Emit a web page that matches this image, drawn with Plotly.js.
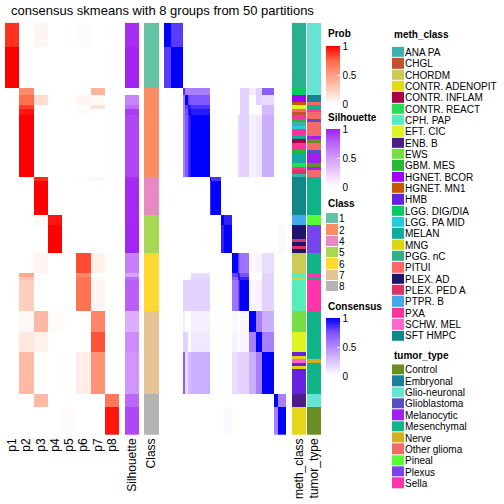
<!DOCTYPE html>
<html><head><meta charset="utf-8">
<script src="https://cdn.plot.ly/plotly-3.0.1.min.js"></script>
<style>html,body{margin:0;padding:0;background:#fff}</style>
</head><body><div id="chart" style="width:504px;height:504px"></div>
<script>
// ---------- data ----------
const probLabels = ['p1','p2','p3','p4','p5','p6','p7','p8'];
// row groups (top to bottom)
const groupNames = ['1a','1b','2a','2b','2c','2d','2e','4a','4b','5a','5b','6a','6b','6c','6d','7a','7b','7c','8a','8b'];
const groupSize  = [7,12,2,3,1,2,18,1,10,3,8,6,1,1,9,6,6,12,4,8];
const groupClass = ['1','1','2','2','2','2','2','4','4','5','5','6','6','6','6','7','7','7','8','8'];
const p1 = [0.88,1,0,0,0,0,0,0,0,0,0,0,0,0,0,0,0,0,0,0];
const p2 = [0,0,0.59,0.72,0.85,0.95,1,0,0,0,0,0,0.45,0.3,0.25,0.04,0.12,0.36,0,0];
const p3 = [0.05,0,0,0.18,0,0,0,0.9,1,0.03,0,0.05,0,0,0,0.36,0.07,0,0.36,0];
const p4 = [0,0,0,0,0,0,0,0,0,0.95,1,0,0,0,0,0.02,0,0,0,0];
const p5 = [0,0,0,0,0,0,0,0,0,0,0,0,0,0,0,0,0,0,0,0.02];
const p6 = [0.02,0,0,0.05,0,0.03,0,0.02,0,0,0,0.82,0.6,0.68,0.7,0,0,0.09,0,0];
const p7 = [0,0,0.39,0.03,0.15,0,0,0.05,0,0,0,0.08,0,0.03,0.05,0.61,0.8,0.55,0,0];
const p8 = [0,0,0,0,0,0,0,0,0,0,0,0,0,0,0,0,0,0,0.67,0.95];
const silhouette = [0.95,0.99,0.02,0.61,0.72,0.9,0.86,0.95,0.97,0.97,0.98,0.63,0.46,0.73,0.77,0.41,0.57,0.53,0.74,0.86];
// consensus between row groups [groupA, groupB, value]; unlisted pairs are 0
const consensusPairs = [
 ['1a','1a',1],['1a','1b',0.82],['1b','1b',1],
 ['2a','2a',0.85],['2a','2b',0.55],['2a','2c',0.55],['2a','2d',0.55],['2a','2e',0.55],
 ['2b','2b',1],['2b','2c',0.8],['2b','2d',0.75],['2b','2e',0.72],
 ['2c','2c',1],['2c','2d',0.9],['2c','2e',0.85],['2d','2d',1],['2d','2e',0.92],['2e','2e',1],
 ['2a','6d',0.2],['2a','7a',0.08],['2a','7b',0.2],['2a','7c',0.7],
 ['2b','6d',0.2],['2b','7b',0.2],['2b','7c',0.15],
 ['2c','6d',0.2],['2c','7c',0.3],['2d','6d',0.2],['2d','7c',0.3],
 ['2e','6b',0.15],['2e','6c',0.18],['2e','6d',0.2],['2e','7a',0.07],['2e','7b',0.1],['2e','7c',0.35],
 ['4a','4a',1],['4a','4b',0.85],['4b','4b',1],
 ['5a','5a',1],['5a','5b',0.9],['5b','5b',1],['5b','8b',0.03],
 ['6a','6a',1],['6a','6b',0.8],['6a','6c',0.7],['6a','6d',0.6],['6b','6b',1],['6b','6c',0.85],['6b','6d',0.75],
 ['6c','6c',1],['6c','6d',0.9],['6d','6d',1],
 ['6a','7a',0.03],['6a','7b',0.05],['6a','7c',0.15],['6b','7c',0.2],['6c','7c',0.2],
 ['6d','7a',0.04],['6d','7b',0.05],['6d','7c',0.2],
 ['7a','7a',1],['7a','7b',0.55],['7a','7c',0.35],['7b','7b',1],['7b','7c',0.55],['7c','7c',1],
 ['8a','8a',1],['8a','8b',0.55],['8b','8b',1]
];
const classLevels = ['1','2','4','5','6','7','8'];
const classColors = ['#66C2A5','#FC8D62','#E78AC3','#A6D854','#FFD92F','#E5C494','#B3B3B3'];
const methLevels = ['ANA PA','CHGL','CHORDM','CONTR. ADENOPIT','CONTR. INFLAM','CONTR. REACT','CPH. PAP','EFT. CIC','ENB. B','EWS','GBM. MES','HGNET. BCOR','HGNET. MN1','HMB','LGG. DIG/DIA','LGG. PA MID','MELAN','MNG','PGG. nC','PITUI','PLEX. AD','PLEX. PED A','PTPR. B','PXA','SCHW. MEL','SFT HMPC'];
const methColors = ['#3CB0AC','#C4502C','#CCCC55','#E5D81B','#A8004A','#22DD55','#55EEBB','#DDF522','#4B1C8A','#77DD44','#22BB33','#A000FF','#CC5500','#6622DD','#00CC66','#22CCDD','#11AAA0','#DDD511','#2AAF8F','#FF6666','#1E1470','#DD3366','#44AAEE','#FF3399','#FF66CC','#118888'];
const tumorLevels = ['Control','Embryonal','Glio-neuronal','Glioblastoma','Melanocytic','Mesenchymal','Nerve','Other glioma','Pineal','Plexus','Sella'];
const tumorColors = ['#6B8E23','#1B7F99','#66E3D3','#5A4FC0','#A020F0','#11B388','#D4B020','#F46A6A','#55FF33','#7744EE','#FF33AA'];
// per-row annotations as runs [label, count]
const methRuns = [
 ['PGG. nC',19],
 ['LGG. DIG/DIA',2],['HGNET. BCOR',2],['HGNET. MN1',1],['EFT. CIC',1],['PITUI',1],['CHGL',1],['PXA',1],['GBM. MES',1],
 ['ANA PA',1],['LGG. PA MID',1],['PXA',2],['MELAN',1],['CONTR. INFLAM',1],['PXA',2],['GBM. MES',1],['MELAN',3],
 ['CONTR. REACT',1],['PXA',1],['PLEX. PED A',1],['ANA PA',1],
 ['SFT HMPC',11],
 ['PTPR. B',3],['PLEX. AD',4],['PLEX. PED A',1],['PLEX. AD',1],['PLEX. PED A',1],['PLEX. AD',1],
 ['CHORDM',6],['CPH. PAP',1],['CHORDM',1],['CPH. PAP',9],
 ['EWS',6],['EFT. CIC',6],['HMB',1],['MNG',1],['SCHW. MEL',1],['HMB',1],['MNG',1],['HMB',7],
 ['ENB. B',4],['CONTR. ADENOPIT',8]
];
const tumorRuns = [
 ['Glio-neuronal',21],['Embryonal',2],['Other glioma',1],['Mesenchymal',1],['Sella',1],['Other glioma',2],
 ['Glioblastoma',1],['Other glioma',4],['Melanocytic',1],['Control',1],['Other glioma',2],['Glioblastoma',1],
 ['Melanocytic',3],['Control',1],['Melanocytic',1],['Other glioma',2],
 ['Mesenchymal',11],
 ['Pineal',3],['Plexus',8],
 ['Mesenchymal',6],['Sella',1],['Mesenchymal',1],['Sella',9],
 ['Mesenchymal',14],['Nerve',1],['Mesenchymal',9],
 ['Glio-neuronal',4],['Control',8]
];

// ---------- build ----------
const W = 504, H = 504;
const probCols = [p1,p2,p3,p4,p5,p6,p7,p8];
const rowGroup = [];
groupSize.forEach((n,g)=>{ for(let k=0;k<n;k++) rowGroup.push(g); });
const N = rowGroup.length;
const rows = Array.from({length:N},(_,i)=>i);
const zProb = rowGroup.map(g=>probCols.map(c=>c[g]));
const zSil = rowGroup.map(g=>[silhouette[g]]);
const zClass = rowGroup.map(g=>[classLevels.indexOf(groupClass[g])]);
const G = groupNames.length;
const cmat = Array.from({length:G},()=>new Array(G).fill(0));
consensusPairs.forEach(([a,b,v])=>{ const i=groupNames.indexOf(a), j=groupNames.indexOf(b); cmat[i][j]=v; cmat[j][i]=v; });
const zCons = rowGroup.map(gi=>rowGroup.map(gj=>cmat[gi][gj]));
function expand(runs, levels){ const out=[]; runs.forEach(([l,n])=>{ for(let k=0;k<n;k++) out.push([levels.indexOf(l)]); }); return out; }
const zMeth = expand(methRuns, methLevels);
const zTumor = expand(tumorRuns, tumorLevels);

function discreteScale(colors){ const n=colors.length, s=[]; colors.forEach((c,k)=>{ s.push([k/n,c]); s.push([(k+1)/n,c]); }); return s; }
const probScale = [[0,'#FFFFFF'],[0.25,'rgb(255,207,190)'],[0.5,'rgb(255,158,130)'],[0.75,'rgb(255,104,70)'],[1,'#FF0000']];
const silScale = [[0,'#FFFFFF'],[0.25,'rgb(236,205,254)'],[0.5,'rgb(213,155,251)'],[0.75,'rgb(186,102,248)'],[1,'rgb(160,32,240)']];
const consScale = [[0,'#FFFFFF'],[0.25,'rgb(220,197,255)'],[0.5,'rgb(179,139,255)'],[0.75,'rgb(126,81,255)'],[1,'#0000FF']];

const FONT = 'Liberation Sans, Arial, Helvetica, sans-serif';
function cbar(top, len){
  return {x:326/W, xanchor:'left', y:1-top/H, yanchor:'top', len:len, lenmode:'pixels', thickness:14,
    xpad:0, ypad:0, outlinewidth:0, tickvals:[0,0.5,1], ticktext:['0','0.5','1'], ticks:'inside',
    tickcolor:'#FFFFFF', ticklen:3, tickfont:{size:10, color:'#000', family:FONT}, title:{text:''}};
}
const base = {type:'heatmap', yaxis:'y', zsmooth:false, hoverinfo:'skip'};
const traces = [
  Object.assign({}, base, {xaxis:'x', z:zProb, x:probLabels.map((_,i)=>i), y:rows, zmin:0, zmax:1, colorscale:probScale, showscale:true, colorbar:cbar(46,58)}),
  Object.assign({}, base, {xaxis:'x2', z:zSil, x:[0], y:rows, zmin:0, zmax:1, colorscale:silScale, showscale:true, colorbar:cbar(129,58)}),
  Object.assign({}, base, {xaxis:'x3', z:zClass, x:[0], y:rows, zmin:-0.5, zmax:classLevels.length-0.5, colorscale:discreteScale(classColors), showscale:false}),
  Object.assign({}, base, {xaxis:'x4', z:zCons, x:rows, y:rows, zmin:0, zmax:1, colorscale:consScale, showscale:true, colorbar:cbar(318,58)}),
  Object.assign({}, base, {xaxis:'x5', z:zMeth, x:[0], y:rows, zmin:-0.5, zmax:methLevels.length-0.5, colorscale:discreteScale(methColors), showscale:false}),
  Object.assign({}, base, {xaxis:'x6', z:zTumor, x:[0], y:rows, zmin:-0.5, zmax:tumorLevels.length-0.5, colorscale:discreteScale(tumorColors), showscale:false}),
  // legend swatches
  {type:'heatmap', xaxis:'x7', yaxis:'y2', z:classLevels.map((_,k)=>[k]), x:[0], y:classLevels.map((_,k)=>k), zmin:-0.5, zmax:classLevels.length-0.5, colorscale:discreteScale(classColors), showscale:false, ygap:1, hoverinfo:'skip'},
  {type:'heatmap', xaxis:'x8', yaxis:'y3', z:methLevels.map((_,k)=>[k]), x:[0], y:methLevels.map((_,k)=>k), zmin:-0.5, zmax:methLevels.length-0.5, colorscale:discreteScale(methColors), showscale:false, ygap:1, hoverinfo:'skip'},
  {type:'heatmap', xaxis:'x9', yaxis:'y4', z:tumorLevels.map((_,k)=>[k]), x:[0], y:tumorLevels.map((_,k)=>k), zmin:-0.5, zmax:tumorLevels.length-0.5, colorscale:discreteScale(tumorColors), showscale:false, ygap:1, hoverinfo:'skip'}
];

const TICKF = {size:12, color:'#000', family:FONT};
function xa(d0,d1,extra){
  return Object.assign({domain:[d0/W,d1/W], anchor:'y', showgrid:false, zeroline:false, showline:false, ticks:'', fixedrange:true, showticklabels:false}, extra||{});
}
function botLabels(n, labels){ return {range:[-0.5,n-0.5], showticklabels:true, tickvals:labels.map((_,i)=>i), ticktext:labels, tickangle:-90, tickfont:TICKF}; }
const PITCH = 11.34;
function legY(top, n, labels, xaxisName){
  return {domain:[1-(top+n*PITCH)/H, 1-top/H], anchor:xaxisName, side:'right', range:[n-0.5,-0.5], showgrid:false, zeroline:false,
    showline:false, ticks:'', tickvals:labels.map((_,k)=>k), ticktext:labels, tickfont:{size:10,color:'#000',family:FONT}, fixedrange:true};
}
const layout = {
  width:W, height:H, margin:{l:0,r:0,t:0,b:0}, paper_bgcolor:'#FFFFFF', plot_bgcolor:'#FFFFFF', showlegend:false,
  font:{family:FONT, color:'#000'},
  title:{text:'consensus skmeans with 8 groups from 50 partitions', x:162.5/W, xanchor:'center', xref:'paper', y:1-10/H, yanchor:'middle', yref:'paper', font:{size:13,color:'#000',family:FONT}},
  xaxis: xa(5,119, botLabels(8, probLabels)),
  xaxis2: xa(125,139, botLabels(1, ['Silhouette'])),
  xaxis3: xa(144,159, botLabels(1, ['Class'])),
  xaxis4: xa(164,286, {range:[-0.5,N-0.5]}),
  xaxis5: xa(292,306, botLabels(1, ['meth_class'])),
  xaxis6: xa(307,321, botLabels(1, ['tumor_type'])),
  yaxis: {domain:[1-435/H, 1-22.7/H], range:[N-0.5,-0.5], showgrid:false, zeroline:false, showline:false, ticks:'', showticklabels:false, fixedrange:true},
  xaxis7: Object.assign(xa(326,338), {anchor:'y2', range:[-0.5,0.5]}),
  xaxis8: Object.assign(xa(392,404), {anchor:'y3', range:[-0.5,0.5]}),
  xaxis9: Object.assign(xa(392,404), {anchor:'y4', range:[-0.5,0.5]}),
  yaxis2: legY(213, classLevels.length, classLevels, 'x7'),
  yaxis3: legY(46.8, methLevels.length, methLevels, 'x8'),
  yaxis4: legY(364.3, tumorLevels.length, tumorLevels, 'x9'),
  annotations: [
    ['Prob',326,34],['Silhouette',326,117.5],['Class',326,203],['Consensus',326,306],['meth_class',392,35],['tumor_type',392,355]
  ].map(([t,x,y])=>({text:'<b>'+t+'</b>', xref:'paper', yref:'paper', x:x/W, y:1-y/H, xanchor:'left', yanchor:'middle', showarrow:false, font:{size:10,color:'#000',family:FONT}}))
};
Plotly.newPlot('chart', traces, layout, {displayModeBar:false, staticPlot:true});
</script></body></html>
